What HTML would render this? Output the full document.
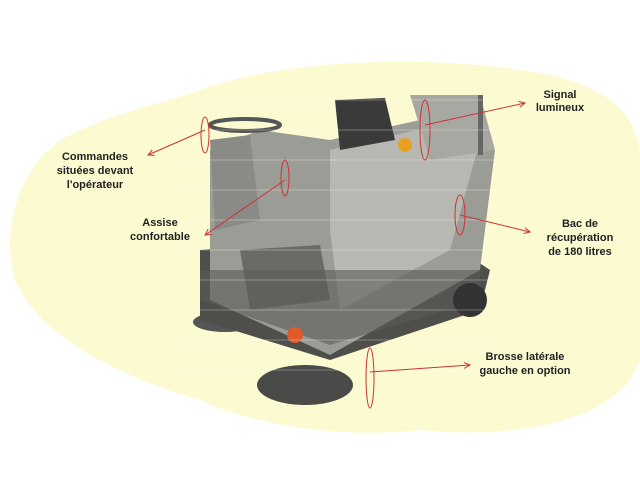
<!DOCTYPE html>
<html><head><meta charset="utf-8"><style>
html,body{margin:0;padding:0;background:#fff;width:640px;height:480px;overflow:hidden}
svg{display:block}
text{font-family:"Liberation Sans",Arial,sans-serif;font-weight:bold;font-size:11px;fill:#222}
</style></head><body>
<svg width="640" height="480" viewBox="0 0 640 480" xmlns="http://www.w3.org/2000/svg">
<defs>
<marker id="a" markerWidth="8" markerHeight="8" refX="6" refY="4" orient="auto"><path d="M0,1 L6,4 L0,7" fill="none" stroke="#c33" stroke-width="1"/></marker>
</defs>
<path d="M200,90 C280,60 420,55 520,70 C600,80 640,110 640,160 L640,360 C620,420 520,440 420,430 C330,440 240,420 200,400 C130,380 40,340 15,280 C0,230 20,160 70,135 C120,110 160,105 200,90 Z" fill="#fcfad0"/>
<g>
<ellipse cx="305" cy="385" rx="48" ry="20" fill="#4a4a48"/>
<ellipse cx="225" cy="322" rx="32" ry="10" fill="#555"/>
<path d="M200,250 L430,230 L490,270 L480,310 L330,360 L200,320 Z" fill="#4e4e4a"/>
<path d="M210,150 L260,130 L330,140 L420,120 L470,95 L495,150 L480,270 L330,355 L210,300 Z" fill="#9c9c96"/>
<path d="M330,150 L460,120 L480,140 L450,250 L340,310 L330,230 Z" fill="#b8b8b2"/>
<path d="M335,100 L385,98 L395,140 L340,150 Z" fill="#3a3a3a"/>
<path d="M410,95 L480,95 L495,150 L430,160 Z" fill="#a8a8a2"/>
<path d="M210,140 L250,135 L260,220 L215,230 Z" fill="#8a8a86"/>
<path d="M240,250 L320,245 L330,300 L250,310 Z" fill="#6a6a66"/>
<path d="M200,270 L480,270 L480,300 L330,345 L200,300 Z" fill="#5a5a56" opacity="0.6"/>
<circle cx="470" cy="300" r="17" fill="#333"/>
<circle cx="295" cy="335" r="8" fill="#e05a2a"/>
<circle cx="405" cy="145" r="7" fill="#e8a020"/>
<ellipse cx="245" cy="125" rx="35" ry="6" fill="none" stroke="#555" stroke-width="4"/>
<rect x="478" y="95" width="5" height="60" fill="#666"/>
</g>
<g stroke="#fff" stroke-opacity="0.3" stroke-width="1">
<line x1="180" y1="100" x2="500" y2="100"/><line x1="180" y1="130" x2="500" y2="130"/><line x1="180" y1="160" x2="500" y2="160"/><line x1="180" y1="190" x2="500" y2="190"/><line x1="180" y1="220" x2="500" y2="220"/><line x1="180" y1="250" x2="500" y2="250"/><line x1="180" y1="280" x2="500" y2="280"/><line x1="180" y1="310" x2="500" y2="310"/><line x1="180" y1="340" x2="500" y2="340"/><line x1="180" y1="370" x2="500" y2="370"/>
</g>
<g stroke="#c33" stroke-width="1" fill="none">
<line x1="205" y1="130" x2="148" y2="155" marker-end="url(#a)"/>
<ellipse cx="205" cy="135" rx="4" ry="18"/>
<line x1="285" y1="180" x2="205" y2="235" marker-end="url(#a)"/>
<ellipse cx="285" cy="178" rx="4" ry="18"/>
<line x1="425" y1="125" x2="525" y2="103" marker-end="url(#a)"/>
<ellipse cx="425" cy="130" rx="5" ry="30"/>
<line x1="460" y1="215" x2="530" y2="232" marker-end="url(#a)"/>
<ellipse cx="460" cy="215" rx="5" ry="20"/>
<line x1="370" y1="372" x2="470" y2="365" marker-end="url(#a)"/>
<ellipse cx="370" cy="378" rx="4" ry="30"/>
</g>
<text x="560" y="98" text-anchor="middle">Signal</text>
<text x="560" y="111" text-anchor="middle">lumineux</text>
<text x="95" y="160" text-anchor="middle">Commandes</text>
<text x="95" y="174" text-anchor="middle">situées devant</text>
<text x="95" y="188" text-anchor="middle">l'opérateur</text>
<text x="160" y="226" text-anchor="middle">Assise</text>
<text x="160" y="240" text-anchor="middle">confortable</text>
<text x="580" y="227" text-anchor="middle">Bac de</text>
<text x="580" y="241" text-anchor="middle">récupération</text>
<text x="580" y="255" text-anchor="middle">de 180 litres</text>
<text x="525" y="360" text-anchor="middle">Brosse latérale</text>
<text x="525" y="374" text-anchor="middle">gauche en option</text>
</svg>
</body></html>
